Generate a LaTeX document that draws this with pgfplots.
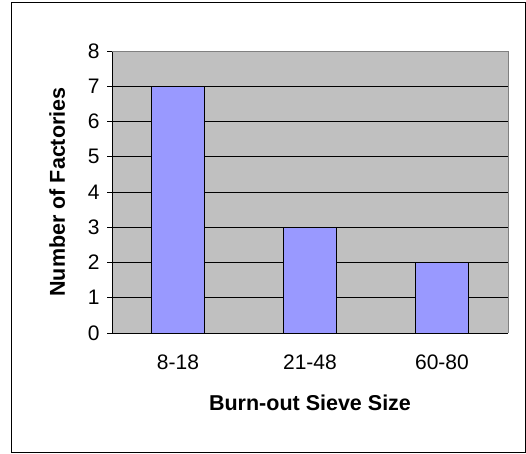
\documentclass[border=0pt]{standalone}
\usepackage{pgfplots}
\pgfplotsset{compat=1.18}
\usepackage{fontspec}
\setmainfont{Liberation Sans}
\definecolor{barblue}{HTML}{9999FF}
\definecolor{plotgray}{HTML}{C0C0C0}
\definecolor{bordergray}{HTML}{808080}
\begin{document}
\begin{tikzpicture}
\path (0,0) rectangle (526bp,454bp);
\draw[black, line width=1pt] (11bp,2bp) rectangle (525bp,451bp);
\begin{axis}[
  at={(112bp,121bp)}, anchor=south west,
  scale only axis, width=396bp, height=282bp,
  xmin=0.5, xmax=3.5, ymin=0, ymax=8,
  ybar, bar width=53bp,
  axis background/.style={fill=plotgray},
  axis x line*=bottom, axis y line*=left,
  axis line style={black, line width=0.8pt, -},
  ymajorgrids, grid style={black, line width=0.6pt},
  ytick={0,1,...,8},
  xtick={1,2,3}, xticklabels={8-18,21-48,60-80},
  major x tick style={draw=none},
  extra x ticks={0.5,1.5,2.5,3.5}, extra x tick labels={},
  extra x tick style={major tick length=5bp, tick align=outside, tick style={black, line width=0.8pt}, grid=none},
  tick align=outside, major tick length=5bp,
  tick style={black, line width=0.8pt},
  ticklabel style={font=\fontsize{21bp}{24bp}\selectfont},
  /pgf/number format/assume math mode=true,
  xticklabel style={yshift=-13bp},
  yticklabel style={xshift=-4bp},
  xlabel={\textbf{Burn-out Sieve Size}},
  ylabel={\textbf{Number of Factories}},
  label style={font=\fontsize{21.5bp}{24bp}\selectfont},
  xlabel style={yshift=-9bp},
  ylabel style={yshift=16bp},
  clip=false,
]
\addplot[fill=barblue, draw=black, line width=0.9pt] coordinates {(1,7) (2,3) (3,2)};
\draw[bordergray, line width=0.8pt] (axis cs:0.5,8) -- (axis cs:3.5,8) -- (axis cs:3.5,0);
\end{axis}
\end{tikzpicture}
\end{document}
